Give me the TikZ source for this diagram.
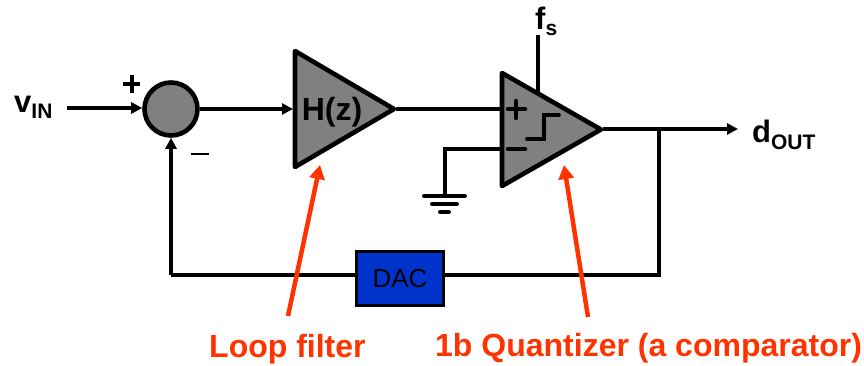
\documentclass[tikz,border=0pt]{standalone}
\usepackage{fontspec}
\setmainfont{Liberation Sans}
\usetikzlibrary{arrows.meta}
\definecolor{blockgray}{RGB}{128,128,128}
\definecolor{dacblue}{RGB}{0,51,204}
\definecolor{callout}{RGB}{255,51,0}
\tikzset{
  wire/.style={line width=3.6pt,black,line cap=butt},
  sig/.style={wire,-{Triangle[length=11pt,width=11pt]}},
  shapeline/.style={draw=black,fill=blockgray,line width=4.6pt,line join=round},
  callarrow/.style={line width=4.5pt,callout,-{Triangle[length=14pt,width=15pt]}},
  lab/.style={inner sep=0pt,anchor=base west},
  calllab/.style={font=\fontsize{32}{34}\selectfont\bfseries,text=callout,inner sep=0pt,anchor=base west},
  thinmark/.style={line width=1.5pt,black},
  inmark/.style={line width=4.5pt,black,line cap=round}
}
\begin{document}
\begin{tikzpicture}[x=1pt,y=-1pt]
\useasboundingbox (0,0) rectangle (864,366);
% coordinates
\coordinate (vinstart) at (67,108);
\coordinate (hin) at (293,109);
\coordinate (htip) at (396,109);
\coordinate (qplus) at (501,109);
\coordinate (qminus) at (501,149);
\coordinate (gndcorner) at (445,149);
\coordinate (gndtop) at (445,196);
\coordinate (clock) at (538,35);
\coordinate (clockend) at (538,92);
\coordinate (qtip) at (603,129);
\coordinate (outend) at (738,129);
\coordinate (tap) at (659,129);
\coordinate (tapdown) at (659,275);
\coordinate (fbcorner) at (171,275);
% shapes
\node[circle,shapeline,minimum size=53pt,inner sep=0pt] (sum) at (171,109) {};
\draw[shapeline] (295,51) -- (394,109) -- (295,167) -- cycle;
\node[font=\fontsize{32}{34}\selectfont\bfseries,inner sep=0pt,anchor=base] (hz) at (332,121) {H(z)};
\node[draw=black,fill=dacblue,line width=3.6pt,minimum width=87pt,minimum height=54pt,inner sep=0pt,font=\fontsize{26}{28}\selectfont] (dac) at (400,278.5) {DAC};
% wires
\draw[sig] (vinstart) -- (sum.west |- vinstart);
\draw[sig] (sum.east) -- (hin);
\draw[wire] (htip) -- (qplus);
\draw[wire] (qminus) -- (gndcorner) -- (gndtop);
\draw[wire] (clock) -- (clockend);
\draw[sig] (qtip) -- (outend);
\draw[wire] (tap) -- (tapdown) -- (dac.east |- tapdown);
\draw[wire] (dac.west |- fbcorner) -- (fbcorner);
\draw[sig] (fbcorner) -- (sum.south);
% quantizer on top of wires
\draw[shapeline] (502,73) -- (601,129.5) -- (502,186) -- cycle;
% marks in quantizer
\draw[inmark] (508,109) -- (525,109) (516,101) -- (516,118);
\draw[inmark] (508,149) -- (525,149);
\draw[inmark,line width=3.6pt] (527,139) -- (544,139) -- (544,115) -- (559,115);
% ground
\draw[wire,line width=4pt,line cap=round] (424,196) -- (465,196);
\draw[wire,line width=4pt,line cap=round] (432,204) -- (457,204);
\draw[wire,line width=4pt,line cap=round] (440,212) -- (449,212);
% sum marks
\draw[line width=4.5pt] (123,84) -- (140,84) (132,75) -- (132,93);
\draw[thinmark] (191,154) -- (209,154);
% callouts
\coordinate (lfstart) at (288,316);
\coordinate (lftip) at (320,165);
\coordinate (qzstart) at (588,317);
\coordinate (qztip) at (564,165);
\draw[callarrow] (lfstart) -- (lftip);
\draw[callarrow] (qzstart) -- (qztip);
% labels
\node[lab,font=\fontsize{31}{33}\selectfont\bfseries] (vin) at (14,113) {v\raisebox{-6pt}{\fontsize{21}{23}\selectfont IN}};
\node[lab,font=\fontsize{31}{33}\selectfont\bfseries] (fs) at (535,30) {f\raisebox{-6pt}{\fontsize{21}{23}\selectfont s}};
\node[lab,font=\fontsize{31}{33}\selectfont\bfseries] (dout) at (752,143) {d\raisebox{-6pt}{\fontsize{21}{23}\selectfont OUT}};
\node[calllab] (lf) at (209,357) {Loop filter};
\node[calllab] (qz) at (435,356) {1b Quantizer (a comparator)};
\end{tikzpicture}
\end{document}
